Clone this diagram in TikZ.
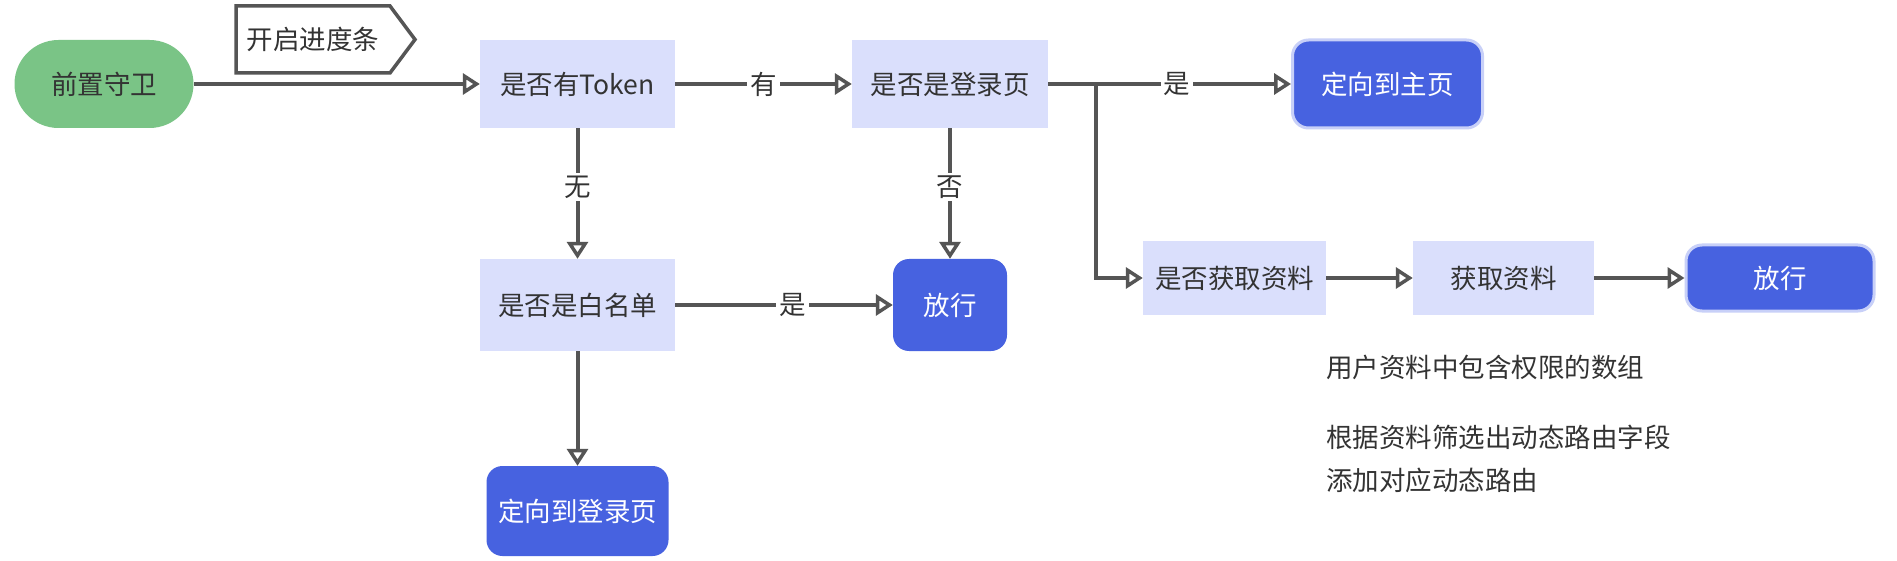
\documentclass[tikz,border=0pt]{standalone}
\usepackage{fontspec}
\setmainfont{Noto Sans CJK SC}
\usetikzlibrary{arrows.meta}
\definecolor{cgreen}{RGB}{122,196,134}
\definecolor{clight}{RGB}{218,223,252}
\definecolor{cblue}{RGB}{71,98,224}
\definecolor{cborder}{RGB}{200,208,248}
\definecolor{cline}{RGB}{85,85,85}
\definecolor{ctext}{RGB}{51,51,51}
\begin{document}
\begin{tikzpicture}[x=1pt,y=-1pt,
  every node/.style={inner sep=0pt, font=\fontsize{26.5}{30}\selectfont},
  startnode/.style={fill=cgreen, text=ctext, rounded corners=44pt},
  decbox/.style={fill=clight, text=ctext},
  endbox/.style={fill=cblue, text=white, rounded corners=16pt},
  endboxb/.style={fill=cblue, text=white, rounded corners=16pt, draw=cborder, line width=3pt},
  lbl/.style={fill=white, text=ctext, inner sep=3pt},
  note/.style={anchor=west, text=ctext},
  ln/.style={draw=cline, line width=4pt},
  arr/.style={ln, -{Triangle[open, length=17pt, width=21pt, line width=3.5pt]}},
]
\useasboundingbox (0,0) rectangle (1897,561);
\fill[white] (0,0) rectangle (1897,561);

% nodes
\node[startnode, minimum width=179pt, minimum height=88pt] (guard) at (104,84) {前置守卫};
\draw[ln, line width=3.5pt, line join=miter] (236,6) -- (390,6) -- (415,39.5) -- (390,73) -- (236,73) -- cycle;
\node[text=ctext] (bar) at (313,39.5) {开启进度条};
\node[decbox, minimum width=195pt, minimum height=88pt] (token) at (577.5,84) {是否有Token};
\node[decbox, minimum width=196pt, minimum height=88pt] (login) at (950,84) {是否是登录页};
\node[endboxb, minimum width=190pt, minimum height=88pt] (home) at (1387.5,84) {定向到主页};
\node[decbox, minimum width=195pt, minimum height=92pt] (white) at (577.5,305) {是否是白名单};
\node[endbox, minimum width=114pt, minimum height=92pt] (pass1) at (950,305) {放行};
\node[endbox, minimum width=182pt, minimum height=90pt] (tologin) at (577.5,511) {定向到登录页};
\node[decbox, minimum width=183pt, minimum height=73pt] (getq) at (1234.5,278) {是否获取资料};
\node[decbox, minimum width=181pt, minimum height=73pt] (get) at (1503.5,278) {获取资料};
\node[endboxb, minimum width=188pt, minimum height=66pt] (pass2) at (1780,278) {放行};

\node[note] (n1) at (1326,367) {用户资料中包含权限的数组};
\node[note] (n2) at (1326,437) {根据资料筛选出动态路由字段};
\node[note] (n3) at (1326,480) {添加对应动态路由};

% connectors
\coordinate (j) at (1096,84);
\draw[arr] (guard) -- (token);
\draw[arr] (token) -- node[lbl] (l1) {有} (login);
\draw[arr] (login) -- node[lbl, pos=0.53] (l2) {是} (home);
\draw[arr] (j) |- (getq);
\draw[arr] (token) -- node[lbl, pos=0.45] (l3) {无} (white);
\draw[arr] (login) -- node[lbl, pos=0.45] (l4) {否} (pass1);
\draw[arr] (white) -- node[lbl, pos=0.54] (l5) {是} (pass1);
\draw[arr] (white) -- (tologin);
\draw[arr] (getq) -- (get);
\draw[arr] (get) -- (pass2);
\end{tikzpicture}
\end{document}
